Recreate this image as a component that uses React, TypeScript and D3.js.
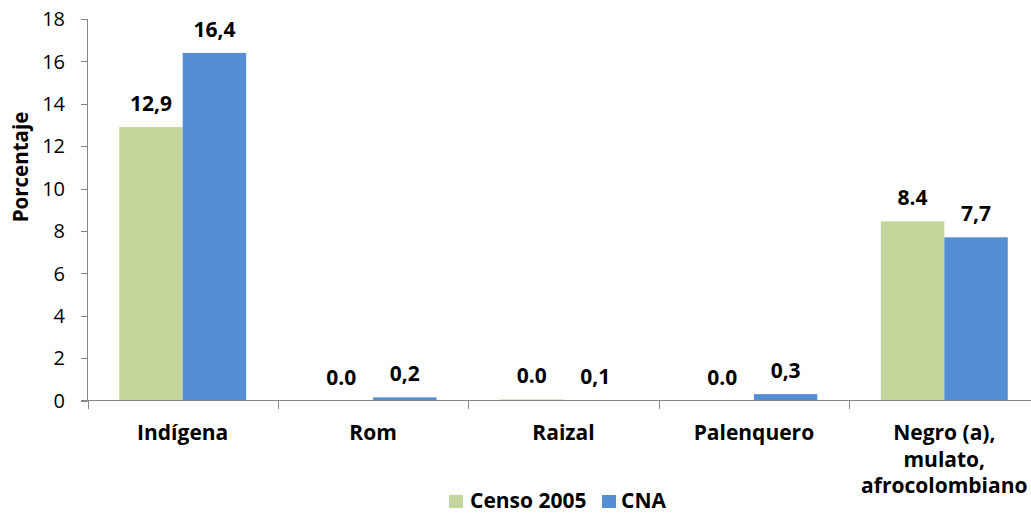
import React from "react";
import * as d3 from "d3";

const categories: string[][] = [
  ["Indígena"],
  ["Rom"],
  ["Raizal"],
  ["Palenquero"],
  ["Negro (a),", "mulato,", "afrocolombiano"],
];
const seriesNames = ["Censo 2005", "CNA"];
const censoValues = [12.9, 0.0, 0.05, 0.0, 8.45];
const cnaValues = [16.4, 0.15, 0.02, 0.3, 7.7];
const censoLabels = ["12,9", "0.0", "0.0", "0.0", "8.4"];
const cnaLabels = ["16,4", "0,2", "0,1", "0,3", "7,7"];
const yTicks = [0, 2, 4, 6, 8, 10, 12, 14, 16, 18];

const colors = ["#C3D69B", "#558ED5"];
const FONT = "'Open Sans', sans-serif";

export default function App() {
  const W = 1031;
  const H = 514;
  const x0 = d3.scaleBand<number>().domain(d3.range(categories.length)).range([87.5, 1039.5]).padding(0);
  const x1 = d3.scaleBand<number>().domain([0, 1]).range([0, x0.bandwidth()]).paddingInner(0).paddingOuter(0.5);
  const y = d3.scaleLinear().domain([0, 18]).range([400.5, 19]);
  const series = [censoValues, cnaValues];
  const labels = [censoLabels, cnaLabels];
  const axisColor = "#868686";

  return (
    <svg width={W} height={H} style={{ position: "absolute", left: 0, top: 0, background: "#fff" }} fontFamily={FONT}>
      {/* bars */}
      {categories.map((_, i) =>
        series.map((vals, s) => {
          const bx = x0(i)! + x1(s)!;
          const top = y(vals[i]);
          return (
            <rect key={`b${i}-${s}`} x={bx} y={top} width={x1.bandwidth()} height={y(0) - top} fill={colors[s]} />
          );
        })
      )}
      {/* value labels */}
      {categories.map((_, i) =>
        series.map((vals, s) => {
          const cx = x0(i)! + x1(s)! + x1.bandwidth() / 2;
          return (
            <text key={`l${i}-${s}`} x={cx} y={y(vals[i]) - 16} textAnchor="middle" fontSize={21} fontWeight="bold" fill="#000">
              {labels[s][i]}
            </text>
          );
        })
      )}
      {/* y axis */}
      <line x1={87.5} x2={87.5} y1={19} y2={400.5} stroke={axisColor} strokeWidth={1} />
      {yTicks.map((t) => (
        <g key={`yt${t}`}>
          <line x1={81} x2={87.5} y1={Math.round(y(t)) + 0.5} y2={Math.round(y(t)) + 0.5} stroke={axisColor} />
          <text x={65} y={y(t)} dy="0.36em" textAnchor="end" fontSize={20} fill="#000">
            {t}
          </text>
        </g>
      ))}
      {/* x axis */}
      <line x1={81} x2={W} y1={400.5} y2={400.5} stroke={axisColor} strokeWidth={1} />
      {d3.range(categories.length + 1).map((k) => {
        const xx = Math.round(87.5 + k * x0.step()) + 0.5;
        return <line key={`xt${k}`} x1={xx} x2={xx} y1={400.5} y2={409} stroke={axisColor} />;
      })}
      {categories.map((lines, i) => (
        <text key={`c${i}`} textAnchor="middle" fontSize={21} fontWeight="bold" fill="#000">
          {lines.map((ln, j) => (
            <tspan key={j} x={x0(i)! + x0.bandwidth() / 2} y={440 + j * 26.5}>
              {ln}
            </tspan>
          ))}
        </text>
      ))}
      {/* y title */}
      <text transform="translate(28,167) rotate(-90)" textAnchor="middle" fontSize={20.5} fontWeight="bold" fill="#000">
        Porcentaje
      </text>
      {/* legend */}
      <rect x={449} y={495} width={14} height={13} fill={colors[0]} />
      <text x={470} y={507.5} fontSize={21} fontWeight="bold" fill="#000">{seriesNames[0]}</text>
      <rect x={602} y={495} width={14} height={13} fill={colors[1]} />
      <text x={621} y={507.5} fontSize={21} fontWeight="bold" fill="#000">{seriesNames[1]}</text>
    </svg>
  );
}
